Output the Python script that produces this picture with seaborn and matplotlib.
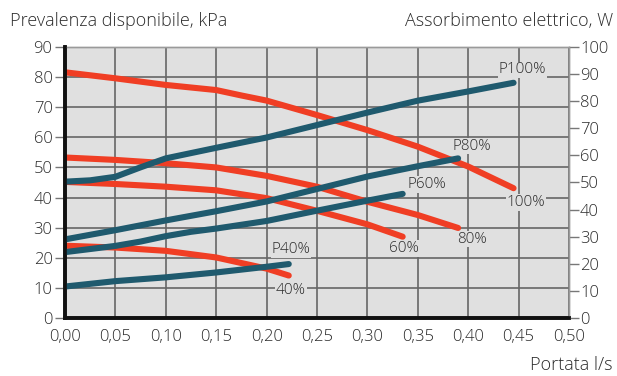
import matplotlib
matplotlib.use("Agg")
import matplotlib.pyplot as plt
import seaborn as sns
import pandas as pd

# Pump curves: available head (kPa) vs flow (l/s) at each speed setting
flow_100 = [0.00, 0.05, 0.10, 0.15, 0.175, 0.20, 0.25, 0.30, 0.35, 0.40, 0.445]
head_100 = [81.6, 79.6, 77.4, 75.7, 73.9, 72.2, 67.4, 62.4, 56.9, 50.3, 43.1]

flow_80 = [0.00, 0.05, 0.10, 0.15, 0.20, 0.25, 0.30, 0.35, 0.39]
head_80 = [53.3, 52.5, 51.4, 50.0, 47.2, 43.6, 38.6, 34.2, 29.9]

flow_60 = [0.00, 0.05, 0.10, 0.15, 0.20, 0.25, 0.30, 0.335]
head_60 = [45.2, 44.5, 43.6, 42.4, 39.8, 35.6, 31.1, 27.0]

flow_40 = [0.00, 0.05, 0.10, 0.15, 0.20, 0.222]
head_40 = [24.0, 23.4, 22.3, 20.1, 16.4, 14.1]

# Electrical power draw (W) vs flow (l/s) at each speed setting
pflow_100 = [0.00, 0.025, 0.05, 0.075, 0.10, 0.15, 0.20, 0.25, 0.30, 0.35, 0.40, 0.445]
power_100 = [50.3, 50.8, 52.1, 55.6, 58.9, 62.8, 66.6, 71.2, 75.8, 80.2, 83.6, 86.8]

pflow_80 = [0.00, 0.05, 0.10, 0.15, 0.20, 0.25, 0.30, 0.35, 0.39]
power_80 = [29.0, 32.4, 36.0, 39.4, 43.0, 47.6, 52.2, 56.0, 58.9]

pflow_60 = [0.00, 0.05, 0.075, 0.10, 0.125, 0.15, 0.20, 0.25, 0.30, 0.335]
power_60 = [24.3, 26.6, 28.2, 30.2, 31.8, 33.0, 35.8, 39.6, 43.3, 45.8]

pflow_40 = [0.00, 0.05, 0.10, 0.15, 0.20, 0.222]
power_40 = [11.6, 13.6, 15.0, 16.8, 18.9, 19.9]

head_labels = ["100%", "80%", "60%", "40%"]
power_labels = ["P100%", "P80%", "P60%", "P40%"]

x_ticks = [0.00, 0.05, 0.10, 0.15, 0.20, 0.25, 0.30, 0.35, 0.40, 0.45, 0.50]
x_tick_labels = ["0,00", "0,05", "0,10", "0,15", "0,20", "0,25", "0,30",
                 "0,35", "0,40", "0,45", "0,50"]
left_ticks = [0, 10, 20, 30, 40, 50, 60, 70, 80, 90]
right_ticks = [0, 10, 20, 30, 40, 50, 60, 70, 80, 90, 100]

RED = "#f03e24"
BLUE = "#1f5a6e"
BG = "#e0e0e0"
GRID = "#666666"
TEXT = "#2b2b2b"

sns.set_theme(style="white")
plt.rcParams["font.family"] = ["Open Sans", "DejaVu Sans"]
plt.rcParams["font.weight"] = "light"
plt.rcParams["text.color"] = TEXT

fig = plt.figure(figsize=(6.17, 3.76), dpi=100)
ax = fig.add_axes([0.1053, 0.1543, 0.8169, 0.7207])
ax.set_facecolor(BG)
ax.set_axisbelow(True)

lw = 4.4
head_df = pd.concat([
    pd.DataFrame({"flow": f, "value": v, "curve": n})
    for f, v, n in zip([flow_100, flow_80, flow_60, flow_40],
                       [head_100, head_80, head_60, head_40], head_labels)
])
sns.lineplot(data=head_df, x="flow", y="value", hue="curve",
             palette=[RED] * 4, linewidth=lw, legend=False, ax=ax,
             sort=False, estimator=None, solid_capstyle="round")

ax.set_xlim(0, 0.5)
ax.set_ylim(0, 90)
ax.set_xticks(x_ticks)
ax.set_xticklabels(x_tick_labels)
ax.set_yticks(left_ticks)
ax.grid(True, color=GRID, linewidth=1.2)
ax.set_xlabel("")
ax.set_ylabel("")

ax2 = ax.twinx()
power_df = pd.concat([
    pd.DataFrame({"flow": f, "value": v, "curve": n})
    for f, v, n in zip([pflow_100, pflow_80, pflow_60, pflow_40],
                       [power_100, power_80, power_60, power_40], power_labels)
])
sns.lineplot(data=power_df, x="flow", y="value", hue="curve",
             palette=[BLUE] * 4, linewidth=lw, legend=False, ax=ax2,
             sort=False, estimator=None, solid_capstyle="round")
ax2.set_ylim(0, 100)
ax2.set_yticks(right_ticks)
ax2.set_ylabel("")
ax2.set_xlabel("")

# Spines: heavy black on the left and bottom, thin grey elsewhere
for a in (ax, ax2):
    for side in ("top", "right"):
        a.spines[side].set_color("#9a9a9a")
        a.spines[side].set_linewidth(1.0)
    a.spines["left"].set_color("#111111")
    a.spines["left"].set_linewidth(2.6)
    a.spines["bottom"].set_color("#111111")
    a.spines["bottom"].set_linewidth(2.6)
    a.spines["left"].set_zorder(5)
    a.spines["bottom"].set_zorder(5)

ax.tick_params(axis="y", length=7, width=1.0, color="#777777",
               labelsize=12, labelcolor=TEXT, pad=2)
ax.tick_params(axis="x", length=0, labelsize=12, labelcolor=TEXT, pad=8)
ax2.tick_params(axis="y", length=7, width=1.0, color="#777777",
                labelsize=12, labelcolor=TEXT, pad=1)

# Curve labels
bbox = dict(facecolor=BG, edgecolor="none", pad=0.5)
label_pos = {
    "100%": (0.457, 38.4), "80%": (0.404, 26.2),
    "60%": (0.336, 23.0), "40%": (0.224, 9.0),
    "P100%": (0.454, 82.4), "P80%": (0.4035, 57.1),
    "P60%": (0.359, 44.3), "P40%": (0.224, 22.7),
}
for name, (lx, ly) in label_pos.items():
    ax2.text(lx, ly * 100 / 90, name, ha="center", va="center",
             fontsize=11, color=TEXT, bbox=bbox, zorder=6)

fig.text(10 / 617, 1 - 21 / 376, "Prevalenza disponibile, kPa",
         ha="left", va="center", fontsize=13, color=TEXT)
fig.text(613 / 617, 1 - 21 / 376, "Assorbimento elettrico, W",
         ha="right", va="center", fontsize=13, color=TEXT)
fig.text(613 / 617, 1 - 365 / 376, "Portata l/s",
         ha="right", va="center", fontsize=13, color=TEXT)

fig.savefig("out.png", dpi=100, facecolor="white")
